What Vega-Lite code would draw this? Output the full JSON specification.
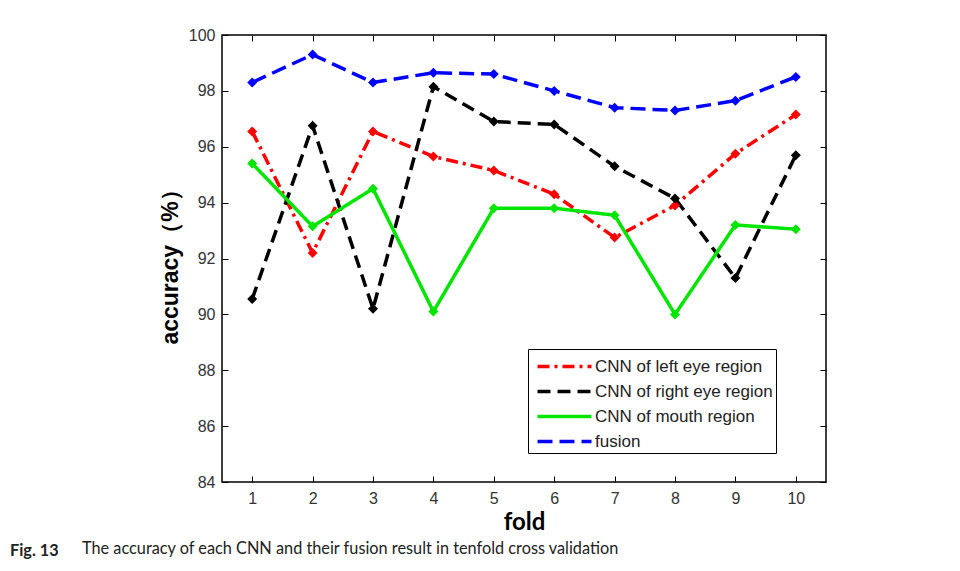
{
  "$schema": "https://vega.github.io/schema/vega-lite/v6.json",
  "autosize": "none",
  "width": 604,
  "height": 447,
  "padding": {"left": 222, "top": 35, "right": 134, "bottom": 89},
  "background": "white",
  "config": {
    "view": {"stroke": "black", "strokeWidth": 1.5},
    "axis": {"grid": false, "domainColor": "black", "tickColor": "black", "labelFont": "Liberation Sans", "labelFontSize": 16, "labelColor": "#333333", "titleFont": "Liberation Sans", "titleColor": "black", "titleFontWeight": "normal"}
  },
  "title": {
    "text": "Fig. 13",
    "subtitle": "\u2800\u2800\u2800\u2800\u2800\u2800The accuracy of each CNN and their fusion result in tenfold cross validation",
    "orient": "bottom",
    "anchor": "start",
    "frame": "group",
    "dx": -212,
    "offset": 9,
    "font": "Lato",
    "fontSize": 16.3,
    "fontWeight": "bold",
    "color": "#222222",
    "subtitleFont": "Lato",
    "subtitleFontSize": 16.3,
    "subtitleColor": "#222222",
    "subtitlePadding": -18.3
  },
  "data": {
    "values": [
      {"fold": 1, "series": "CNN of left eye region", "acc": 96.55},
      {"fold": 2, "series": "CNN of left eye region", "acc": 92.2},
      {"fold": 3, "series": "CNN of left eye region", "acc": 96.55},
      {"fold": 4, "series": "CNN of left eye region", "acc": 95.65},
      {"fold": 5, "series": "CNN of left eye region", "acc": 95.15},
      {"fold": 6, "series": "CNN of left eye region", "acc": 94.3},
      {"fold": 7, "series": "CNN of left eye region", "acc": 92.75},
      {"fold": 8, "series": "CNN of left eye region", "acc": 93.9},
      {"fold": 9, "series": "CNN of left eye region", "acc": 95.75},
      {"fold": 10, "series": "CNN of left eye region", "acc": 97.15},
      {"fold": 1, "series": "CNN of right eye region", "acc": 90.55},
      {"fold": 2, "series": "CNN of right eye region", "acc": 96.75},
      {"fold": 3, "series": "CNN of right eye region", "acc": 90.2},
      {"fold": 4, "series": "CNN of right eye region", "acc": 98.15},
      {"fold": 5, "series": "CNN of right eye region", "acc": 96.9},
      {"fold": 6, "series": "CNN of right eye region", "acc": 96.8},
      {"fold": 7, "series": "CNN of right eye region", "acc": 95.3},
      {"fold": 8, "series": "CNN of right eye region", "acc": 94.15},
      {"fold": 9, "series": "CNN of right eye region", "acc": 91.3},
      {"fold": 10, "series": "CNN of right eye region", "acc": 95.7},
      {"fold": 1, "series": "CNN of mouth region", "acc": 95.4},
      {"fold": 2, "series": "CNN of mouth region", "acc": 93.15},
      {"fold": 3, "series": "CNN of mouth region", "acc": 94.5},
      {"fold": 4, "series": "CNN of mouth region", "acc": 90.1},
      {"fold": 5, "series": "CNN of mouth region", "acc": 93.8},
      {"fold": 6, "series": "CNN of mouth region", "acc": 93.8},
      {"fold": 7, "series": "CNN of mouth region", "acc": 93.55},
      {"fold": 8, "series": "CNN of mouth region", "acc": 90.0},
      {"fold": 9, "series": "CNN of mouth region", "acc": 93.2},
      {"fold": 10, "series": "CNN of mouth region", "acc": 93.05},
      {"fold": 1, "series": "fusion", "acc": 98.3},
      {"fold": 2, "series": "fusion", "acc": 99.3},
      {"fold": 3, "series": "fusion", "acc": 98.3},
      {"fold": 4, "series": "fusion", "acc": 98.65},
      {"fold": 5, "series": "fusion", "acc": 98.6},
      {"fold": 6, "series": "fusion", "acc": 98.0},
      {"fold": 7, "series": "fusion", "acc": 97.4},
      {"fold": 8, "series": "fusion", "acc": 97.3},
      {"fold": 9, "series": "fusion", "acc": 97.65},
      {"fold": 10, "series": "fusion", "acc": 98.5}
    ]
  },
  "resolve": {"axis": {"x": "independent", "y": "independent"}},
  "layer": [
    {
      "mark": {"type": "line", "strokeWidth": 3.5},
      "encoding": {
        "x": {"field": "fold", "type": "quantitative", "scale": {"domain": [0.5, 10.5], "nice": false, "zero": false},
              "axis": {"values": [1,2,3,4,5,6,7,8,9,10], "tickSize": -6, "labelPadding": 14, "domain": false, "title": "fold", "titleFontSize": 24, "titleFont": "Lato", "titleFontWeight": "bold", "titlePadding": 4}},
        "y": {"field": "acc", "type": "quantitative", "scale": {"domain": [84, 100], "nice": false, "zero": false},
              "axis": {"values": [84,86,88,90,92,94,96,98,100], "tickSize": -6, "labelPadding": 13, "domain": false, "title": "accuracy（%）", "titleFontSize": 23, "titleFontWeight": "bold", "titlePadding": 6, "titleY": 226}},
        "color": {"field": "series", "type": "nominal",
                  "scale": {"domain": ["CNN of left eye region", "CNN of right eye region", "CNN of mouth region", "fusion"], "range": ["#ff0000", "#000000", "#00e600", "#0000ff"]},
                  "legend": {"title": null, "orient": "none", "legendX": 306, "legendY": 314, "symbolType": "M-2.16,0H2.16", "symbolSize": 625, "symbolStrokeWidth": 3.5, "symbolOffset": 19, "labelFont": "Liberation Sans", "labelFontSize": 17, "labelColor": "#222222", "labelLimit": 400, "rowPadding": 2, "padding": 3, "strokeColor": "black", "fillColor": "white", "labelOffset": 16}},
        "strokeDash": {"field": "series", "type": "nominal",
                       "scale": {"domain": ["CNN of left eye region", "CNN of right eye region", "CNN of mouth region", "fusion"], "range": [[12, 5, 3, 5], [13, 7], [1, 0], [15, 7]]},
                       "legend": {"title": null, "orient": "none", "legendX": 306, "legendY": 314, "symbolType": "M-2.16,0H2.16", "symbolSize": 625, "symbolStrokeWidth": 3.5, "symbolOffset": 19, "labelFont": "Liberation Sans", "labelFontSize": 17, "labelColor": "#222222", "labelLimit": 400, "rowPadding": 2, "padding": 3, "strokeColor": "black", "fillColor": "white", "labelOffset": 16}}
      }
    },
    {
      "mark": {"type": "point", "shape": "diamond", "filled": true, "size": 100, "opacity": 1},
      "encoding": {
        "x": {"field": "fold", "type": "quantitative", "scale": {"domain": [0.5, 10.5], "nice": false, "zero": false},
              "axis": {"orient": "top", "values": [1,2,3,4,5,6,7,8,9,10], "tickSize": -6, "labels": false, "domain": false, "title": null}},
        "y": {"field": "acc", "type": "quantitative", "scale": {"domain": [84, 100], "nice": false, "zero": false},
              "axis": {"orient": "right", "values": [84,86,88,90,92,94,96,98,100], "tickSize": -6, "labels": false, "domain": false, "title": null}},
        "color": {"field": "series", "type": "nominal", "legend": null}
      }
    }
  ]
}
